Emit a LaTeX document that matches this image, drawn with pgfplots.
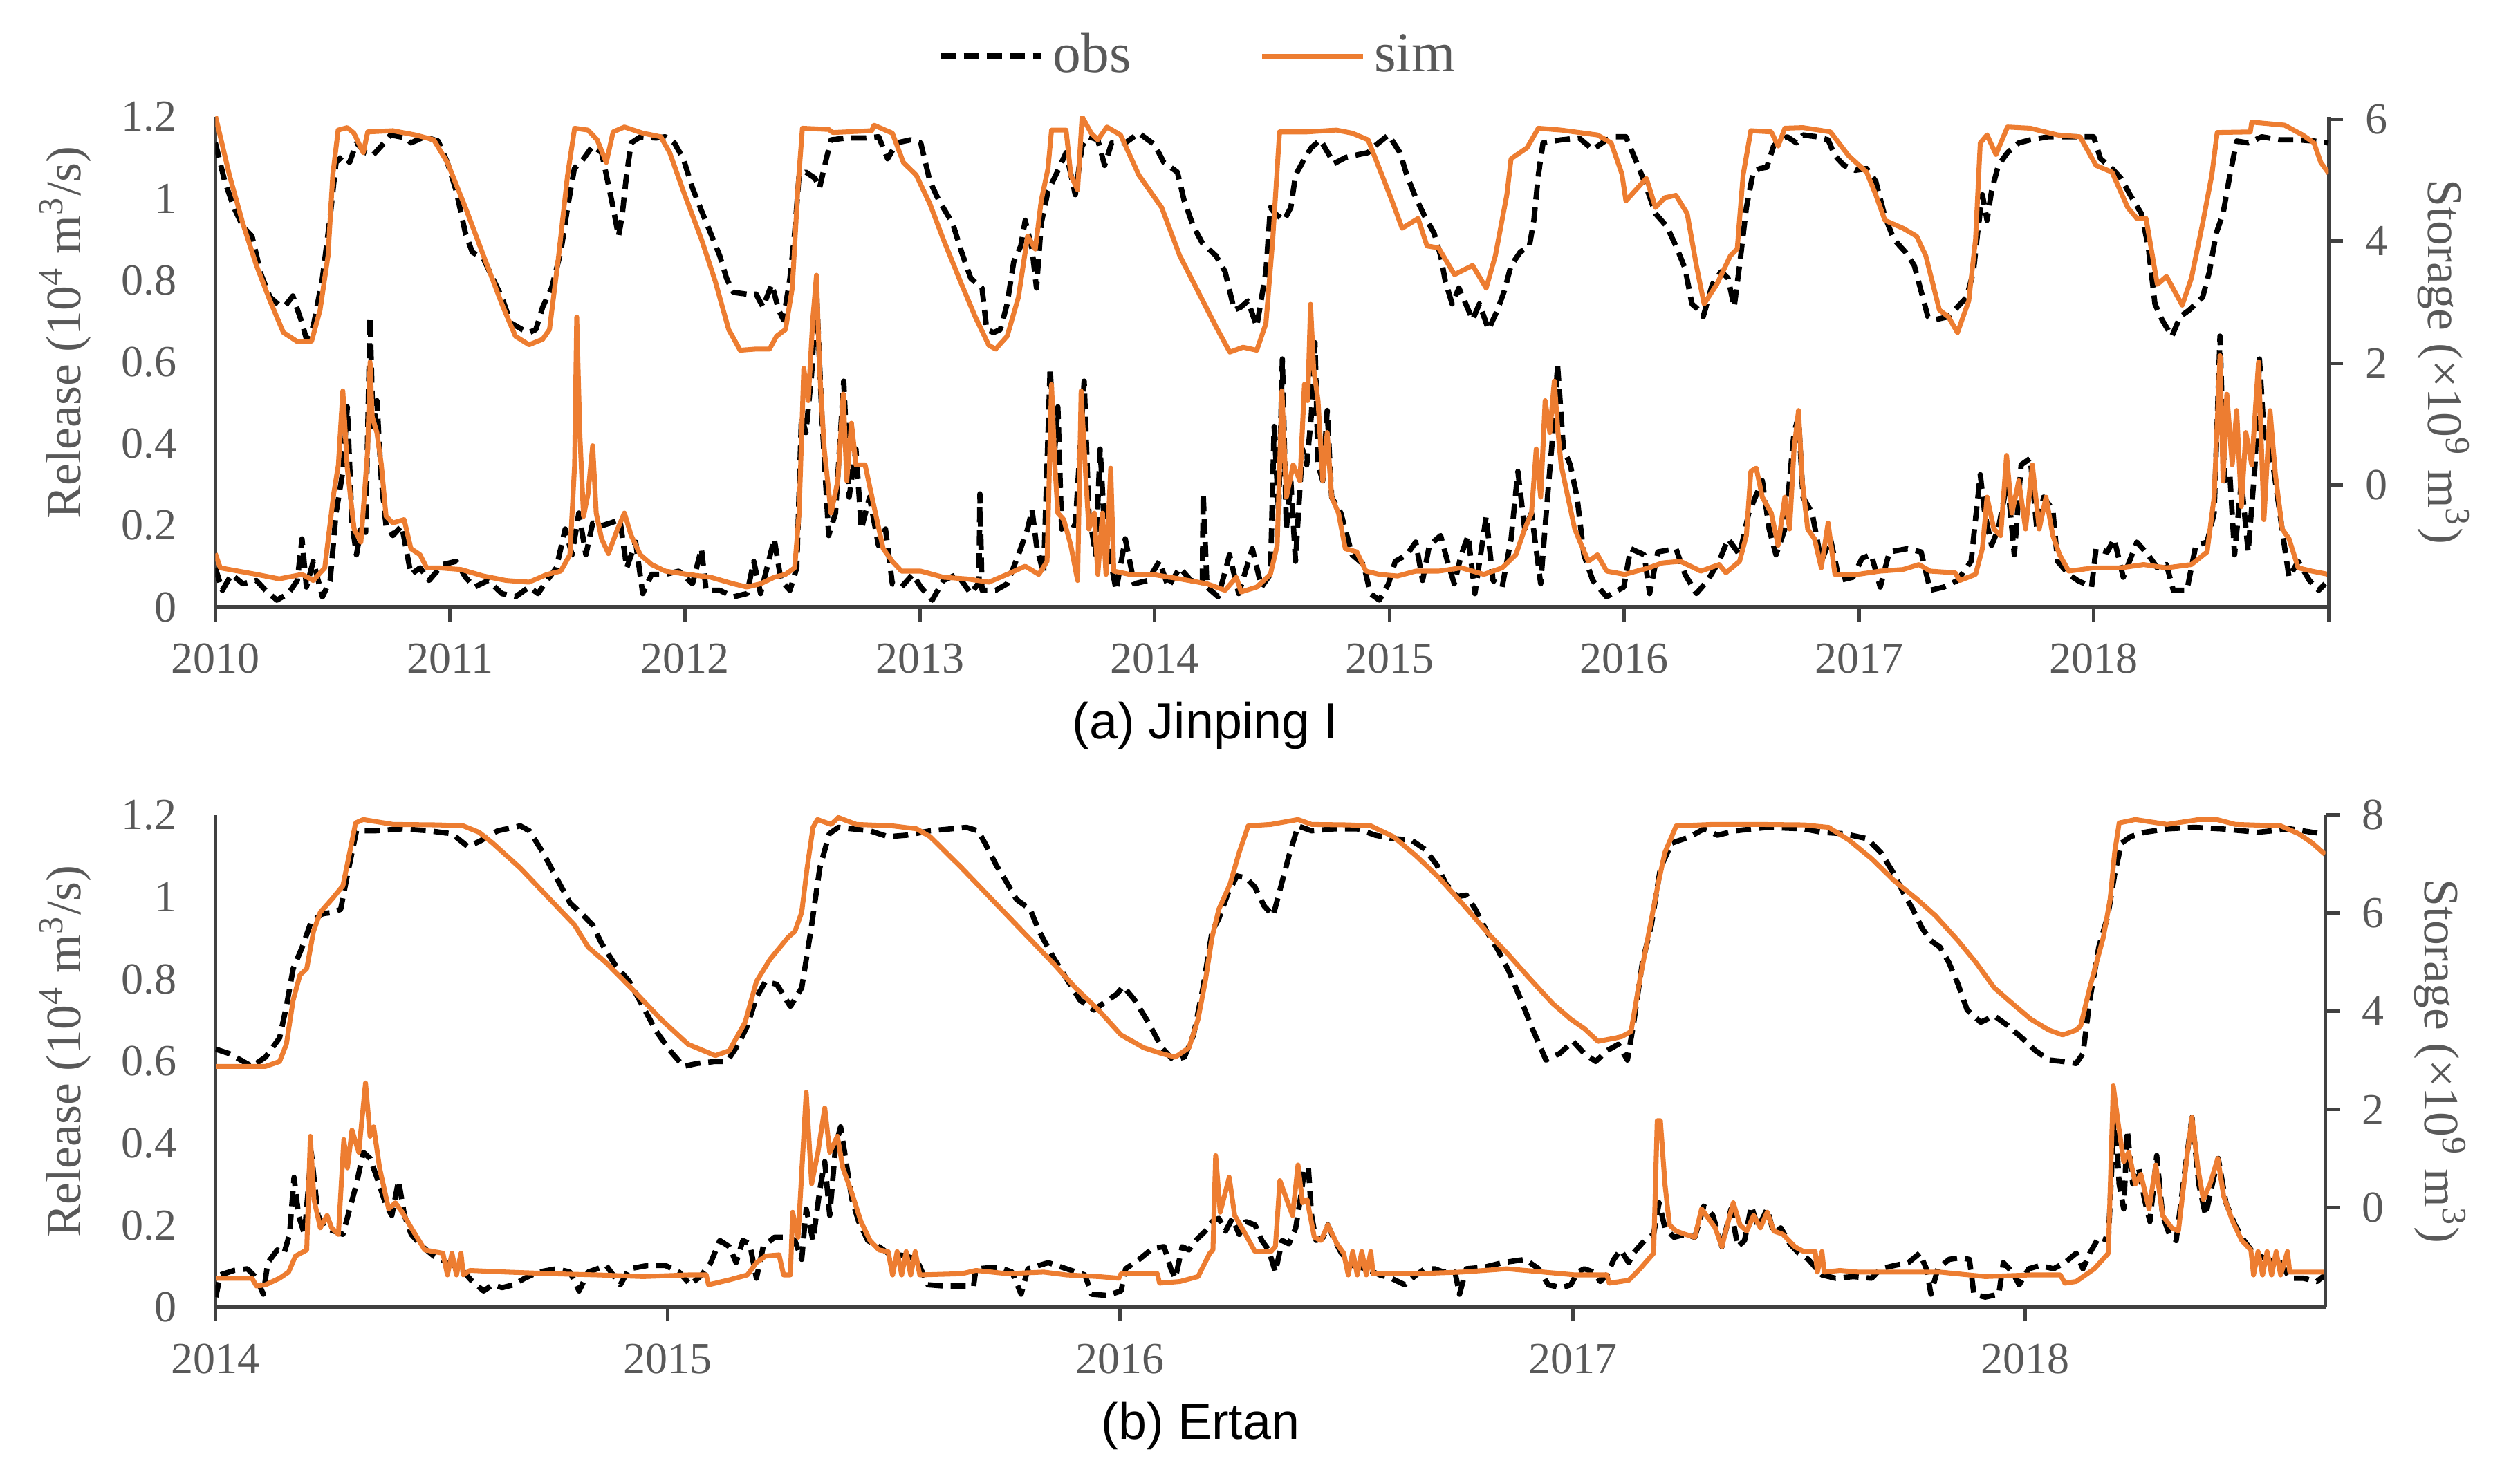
\documentclass[border=0pt]{standalone}
\usepackage{pgfplots}
\pgfplotsset{compat=1.18}
\usepackage{fontspec}
\setmainfont{Liberation Serif}
\newfontfamily\capfont{Liberation Sans}
\definecolor{simorange}{HTML}{ED7D31}
\definecolor{txtgray}{HTML}{595959}
\definecolor{axgray}{HTML}{404040}

\pgfplotsset{
  base/.style={
    scale only axis,
    /pgf/number format/assume math mode=true,
    tick label style={font=\fontsize{10}{12}\selectfont, text=txtgray},
    label style={font=\fontsize{11.2}{13}\selectfont, text=txtgray},
    axis line style={axgray, line width=0.8pt},
    tick style={axgray, line width=0.8pt},
    major tick length=3.2pt,
    tick align=outside,
  },
  obsline/.style={black, line width=1.2pt, dash pattern=on 3.4pt off 1.8pt, line join=round},
  simline/.style={simorange, line width=1.1pt, line join=round},
}

\begin{document}
\begin{tikzpicture}
\useasboundingbox (0,0) rectangle (20,-11.684);

% ---------- (a) Jinping I : release ----------
\begin{axis}[base,
  at={(1.709cm,-4.819cm)}, anchor=south west,
  width=16.773cm, height=3.893cm,
  xmin=2010, xmax=2019, ymin=0, ymax=1.2,
  axis x line*=bottom, axis y line*=left,
  xtick={2010,2011,2012,2013,2014,2015,2016,2017,2018,2019},
  xticklabels={2010,2011,2012,2013,2014,2015,2016,2017,2018,{}},
  ytick={0,0.2,0.4,0.6,0.8,1,1.2},
  ytick style={draw=none},
  yticklabel style={xshift=-2pt},
  xticklabel style={yshift=-1.5pt},
  ylabel={Release (10\textsuperscript{4} m\textsuperscript{3}/s)},
  ylabel style={at={(ticklabel cs:0.56)}},
  legend columns=2,
  legend style={draw=none, fill=none, at={(0.4665,1.1232)}, anchor=center,
    font=\fontsize{12.7}{14}\selectfont, text=txtgray,
    /tikz/every even column/.append style={column sep=0.95cm}},
  legend image code/.code={\draw[#1] (0cm,0cm) -- (0.8cm,0cm);},
]
\addplot[obsline] coordinates {
(2010.0,0.096)(2010.03,0.041)(2010.069,0.080)(2010.117,0.057)(2010.175,0.065)(2010.214,0.041)(2010.262,0.017)(2010.311,0.033)(2010.349,0.065)(2010.369,0.167)(2010.388,0.049)(2010.417,0.112)(2010.456,0.025)(2010.489,0.065)(2010.514,0.230)(2010.543,0.332)(2010.562,0.49)(2010.582,0.206)(2010.601,0.128)(2010.62,0.191)(2010.64,0.183)(2010.659,0.710)(2010.672,0.427)(2010.688,0.505)(2010.707,0.309)(2010.727,0.199)(2010.756,0.175)(2010.794,0.199)(2010.833,0.080)(2010.872,0.096)(2010.91,0.065)(2010.968,0.104)(2011.026,0.112)(2011.065,0.073)(2011.104,0.049)(2011.162,0.065)(2011.22,0.033)(2011.278,0.025)(2011.336,0.049)(2011.374,0.033)(2011.413,0.065)(2011.452,0.096)(2011.49,0.191)(2011.519,0.128)(2011.548,0.230)(2011.578,0.128)(2011.607,0.206)(2011.645,0.199)(2011.684,0.206)(2011.723,0.214)(2011.752,0.096)(2011.79,0.159)(2011.82,0.033)(2011.858,0.080)(2011.916,0.080)(2011.974,0.088)(2012.032,0.057)(2012.07,0.143)(2012.09,0.041)(2012.148,0.041)(2012.206,0.025)(2012.264,0.033)(2012.293,0.112)(2012.322,0.033)(2012.38,0.167)(2012.409,0.065)(2012.447,0.041)(2012.476,0.096)(2012.496,0.466)(2012.515,0.427)(2012.539,0.568)(2012.56,0.773)(2012.583,0.466)(2012.612,0.175)(2012.641,0.230)(2012.676,0.553)(2012.699,0.269)(2012.728,0.387)(2012.751,0.191)(2012.786,0.269)(2012.824,0.151)(2012.854,0.191)(2012.883,0.057)(2012.922,0.049)(2012.97,0.080)(2013.004,0.049)(2013.053,0.017)(2013.1,0.065)(2013.159,0.080)(2013.217,0.033)(2013.252,0.060)(2013.256,0.277)(2013.265,0.041)(2013.323,0.041)(2013.372,0.057)(2013.42,0.128)(2013.459,0.191)(2013.478,0.238)(2013.497,0.151)(2013.527,0.080)(2013.555,0.584)(2013.575,0.387)(2013.588,0.49)(2013.604,0.191)(2013.633,0.206)(2013.662,0.199)(2013.7,0.553)(2013.72,0.230)(2013.749,0.128)(2013.768,0.387)(2013.787,0.191)(2013.836,0.041)(2013.875,0.167)(2013.913,0.057)(2013.971,0.065)(2014.02,0.112)(2014.058,0.049)(2014.107,0.096)(2014.155,0.065)(2014.203,0.060)(2014.207,0.277)(2014.223,0.049)(2014.271,0.025)(2014.319,0.128)(2014.358,0.033)(2014.416,0.143)(2014.455,0.049)(2014.493,0.080)(2014.509,0.442)(2014.528,0.230)(2014.544,0.607)(2014.561,0.191)(2014.58,0.309)(2014.6,0.112)(2014.629,0.387)(2014.648,0.348)(2014.667,0.466)(2014.683,0.647)(2014.696,0.348)(2014.716,0.309)(2014.735,0.481)(2014.754,0.269)(2014.793,0.230)(2014.841,0.128)(2014.89,0.104)(2014.919,0.033)(2014.957,0.017)(2014.996,0.057)(2015.025,0.112)(2015.074,0.128)(2015.112,0.159)(2015.141,0.065)(2015.17,0.151)(2015.218,0.175)(2015.247,0.112)(2015.276,0.057)(2015.306,0.128)(2015.335,0.175)(2015.364,0.033)(2015.412,0.222)(2015.441,0.065)(2015.48,0.049)(2015.518,0.167)(2015.547,0.332)(2015.576,0.191)(2015.605,0.230)(2015.644,0.057)(2015.673,0.269)(2015.702,0.466)(2015.716,0.592)(2015.741,0.387)(2015.77,0.348)(2015.799,0.269)(2015.828,0.128)(2015.866,0.065)(2015.925,0.025)(2015.973,0.041)(2015.998,0.049)(2016.027,0.143)(2016.085,0.128)(2016.108,0.033)(2016.143,0.135)(2016.22,0.143)(2016.259,0.080)(2016.307,0.033)(2016.355,0.065)(2016.404,0.112)(2016.442,0.167)(2016.491,0.128)(2016.53,0.230)(2016.558,0.269)(2016.588,0.309)(2016.617,0.191)(2016.646,0.128)(2016.684,0.191)(2016.723,0.427)(2016.742,0.466)(2016.761,0.269)(2016.8,0.230)(2016.839,0.112)(2016.878,0.167)(2016.916,0.065)(2016.974,0.073)(2017.013,0.120)(2017.052,0.128)(2017.09,0.049)(2017.129,0.135)(2017.206,0.143)(2017.264,0.135)(2017.303,0.041)(2017.361,0.049)(2017.419,0.065)(2017.477,0.112)(2017.516,0.324)(2017.535,0.230)(2017.564,0.151)(2017.593,0.191)(2017.632,0.309)(2017.661,0.128)(2017.69,0.348)(2017.729,0.364)(2017.757,0.191)(2017.786,0.269)(2017.825,0.238)(2017.845,0.112)(2017.893,0.080)(2017.931,0.065)(2017.99,0.049)(2018.009,0.143)(2018.057,0.135)(2018.086,0.167)(2018.125,0.073)(2018.183,0.159)(2018.231,0.128)(2018.27,0.096)(2018.309,0.104)(2018.338,0.041)(2018.396,0.041)(2018.434,0.151)(2018.482,0.159)(2018.512,0.230)(2018.537,0.663)(2018.556,0.309)(2018.579,0.324)(2018.599,0.128)(2018.628,0.309)(2018.657,0.135)(2018.686,0.348)(2018.705,0.607)(2018.724,0.427)(2018.753,0.387)(2018.782,0.269)(2018.811,0.151)(2018.831,0.073)(2018.87,0.112)(2018.918,0.065)(2018.957,0.041)(2018.985,0.057)
};
\addlegendentry{obs}
\addplot[simline] coordinates {
(2010.0,0.131)(2010.021,0.096)(2010.098,0.088)(2010.175,0.080)(2010.272,0.069)(2010.369,0.080)(2010.417,0.065)(2010.466,0.096)(2010.504,0.277)(2010.524,0.348)(2010.543,0.529)(2010.562,0.340)(2010.591,0.191)(2010.62,0.159)(2010.649,0.387)(2010.659,0.60)(2010.668,0.466)(2010.688,0.427)(2010.707,0.348)(2010.727,0.222)(2010.756,0.206)(2010.804,0.214)(2010.833,0.143)(2010.872,0.128)(2010.9,0.096)(2010.949,0.096)(2011.046,0.092)(2011.142,0.076)(2011.239,0.065)(2011.336,0.061)(2011.413,0.080)(2011.471,0.088)(2011.51,0.128)(2011.53,0.348)(2011.539,0.710)(2011.552,0.427)(2011.568,0.222)(2011.587,0.277)(2011.607,0.395)(2011.622,0.230)(2011.645,0.167)(2011.674,0.131)(2011.713,0.191)(2011.742,0.230)(2011.771,0.175)(2011.81,0.128)(2011.858,0.104)(2011.916,0.088)(2012.012,0.080)(2012.109,0.073)(2012.206,0.057)(2012.264,0.049)(2012.322,0.057)(2012.38,0.073)(2012.428,0.080)(2012.467,0.096)(2012.486,0.230)(2012.506,0.584)(2012.525,0.505)(2012.544,0.702)(2012.56,0.812)(2012.573,0.584)(2012.593,0.387)(2012.622,0.230)(2012.651,0.309)(2012.674,0.521)(2012.689,0.309)(2012.709,0.450)(2012.728,0.348)(2012.767,0.348)(2012.805,0.246)(2012.844,0.143)(2012.883,0.112)(2012.922,0.088)(2013.004,0.088)(2013.1,0.073)(2013.198,0.069)(2013.294,0.061)(2013.372,0.080)(2013.449,0.100)(2013.507,0.080)(2013.542,0.112)(2013.561,0.545)(2013.575,0.348)(2013.588,0.230)(2013.613,0.214)(2013.643,0.151)(2013.672,0.065)(2013.687,0.529)(2013.704,0.348)(2013.72,0.191)(2013.743,0.230)(2013.758,0.080)(2013.778,0.230)(2013.793,0.080)(2013.813,0.340)(2013.826,0.088)(2013.894,0.080)(2013.991,0.080)(2014.107,0.069)(2014.223,0.057)(2014.3,0.041)(2014.348,0.073)(2014.368,0.037)(2014.435,0.049)(2014.493,0.080)(2014.522,0.151)(2014.542,0.529)(2014.561,0.269)(2014.59,0.348)(2014.619,0.309)(2014.638,0.545)(2014.652,0.505)(2014.664,0.741)(2014.677,0.584)(2014.696,0.505)(2014.716,0.309)(2014.735,0.427)(2014.754,0.269)(2014.783,0.230)(2014.812,0.143)(2014.861,0.135)(2014.9,0.088)(2014.957,0.080)(2015.035,0.076)(2015.112,0.088)(2015.209,0.088)(2015.306,0.096)(2015.402,0.080)(2015.48,0.096)(2015.538,0.128)(2015.576,0.191)(2015.605,0.230)(2015.625,0.387)(2015.644,0.269)(2015.663,0.505)(2015.683,0.427)(2015.702,0.553)(2015.718,0.427)(2015.731,0.348)(2015.76,0.269)(2015.789,0.191)(2015.818,0.151)(2015.847,0.112)(2015.886,0.128)(2015.925,0.088)(2016.002,0.080)(2016.104,0.096)(2016.162,0.108)(2016.239,0.112)(2016.326,0.088)(2016.404,0.104)(2016.433,0.084)(2016.491,0.112)(2016.52,0.175)(2016.539,0.332)(2016.562,0.340)(2016.588,0.269)(2016.626,0.230)(2016.655,0.151)(2016.684,0.269)(2016.704,0.191)(2016.723,0.387)(2016.742,0.481)(2016.758,0.309)(2016.781,0.191)(2016.81,0.167)(2016.839,0.096)(2016.868,0.206)(2016.897,0.080)(2016.994,0.080)(2017.09,0.088)(2017.187,0.092)(2017.255,0.104)(2017.303,0.088)(2017.409,0.084)(2017.429,0.065)(2017.496,0.080)(2017.525,0.143)(2017.545,0.269)(2017.574,0.191)(2017.603,0.175)(2017.628,0.371)(2017.651,0.230)(2017.68,0.309)(2017.709,0.191)(2017.738,0.348)(2017.767,0.191)(2017.796,0.269)(2017.825,0.175)(2017.854,0.128)(2017.893,0.088)(2017.999,0.096)(2018.115,0.096)(2018.212,0.104)(2018.309,0.096)(2018.415,0.104)(2018.482,0.135)(2018.512,0.269)(2018.537,0.615)(2018.55,0.309)(2018.566,0.521)(2018.589,0.348)(2018.608,0.481)(2018.628,0.246)(2018.647,0.427)(2018.672,0.348)(2018.701,0.600)(2018.724,0.214)(2018.75,0.481)(2018.773,0.324)(2018.802,0.191)(2018.831,0.167)(2018.87,0.096)(2018.928,0.088)(2018.999,0.080)
};
\addlegendentry{sim}
\end{axis}

% ---------- (a) Jinping I : storage ----------
\begin{axis}[base,
  at={(1.709cm,-4.819cm)}, anchor=south west,
  width=16.773cm, height=3.893cm,
  xmin=2010, xmax=2019, ymin=-2, ymax=6.04,
  axis y line*=right, axis x line=none,
  ytick={0,2,4,6},
  yticklabel style={xshift=1.5pt},
  ylabel={Storage (×10\textsuperscript{9} m\textsuperscript{3})},
  ylabel style={rotate=180},
]
\addplot[obsline] coordinates {
(2010.0,5.61)(2010.04,4.98)(2010.079,4.55)(2010.117,4.24)(2010.156,4.08)(2010.195,3.45)(2010.233,3.08)(2010.272,2.95)(2010.3,2.95)(2010.33,3.10)(2010.369,2.66)(2010.388,2.39)(2010.417,2.60)(2010.456,3.39)(2010.489,4.40)(2010.514,5.29)(2010.543,5.40)(2010.572,5.29)(2010.601,5.61)(2010.64,5.45)(2010.669,5.40)(2010.707,5.56)(2010.746,5.74)(2010.814,5.69)(2010.833,5.61)(2010.891,5.71)(2010.949,5.64)(2010.988,5.29)(2011.026,4.82)(2011.065,4.13)(2011.094,3.82)(2011.142,3.71)(2011.181,3.39)(2011.22,3.08)(2011.258,2.66)(2011.307,2.55)(2011.336,2.50)(2011.365,2.55)(2011.394,2.92)(2011.432,3.23)(2011.471,3.82)(2011.5,4.55)(2011.529,5.19)(2011.568,5.35)(2011.607,5.56)(2011.645,5.45)(2011.674,4.92)(2011.694,4.55)(2011.717,4.08)(2011.732,4.40)(2011.751,5.08)(2011.771,5.61)(2011.81,5.71)(2011.877,5.69)(2011.916,5.71)(2011.955,5.61)(2011.993,5.35)(2012.032,4.87)(2012.07,4.50)(2012.109,4.13)(2012.148,3.76)(2012.177,3.39)(2012.206,3.16)(2012.264,3.13)(2012.303,3.13)(2012.332,2.92)(2012.37,3.29)(2012.399,2.87)(2012.419,2.71)(2012.447,3.39)(2012.467,4.13)(2012.486,5.08)(2012.515,5.13)(2012.554,5.03)(2012.573,4.87)(2012.602,5.35)(2012.622,5.66)(2012.689,5.69)(2012.767,5.69)(2012.825,5.71)(2012.863,5.35)(2012.902,5.61)(2012.96,5.66)(2013.004,5.61)(2013.043,4.98)(2013.082,4.66)(2013.14,4.29)(2013.178,3.82)(2013.217,3.39)(2013.265,3.23)(2013.285,2.55)(2013.314,2.50)(2013.343,2.55)(2013.372,2.97)(2013.4,3.66)(2013.43,3.92)(2013.449,4.34)(2013.478,3.87)(2013.497,3.23)(2013.517,4.29)(2013.546,4.82)(2013.585,5.13)(2013.623,5.45)(2013.662,4.76)(2013.691,5.56)(2013.72,5.71)(2013.758,5.66)(2013.787,5.24)(2013.817,5.61)(2013.875,5.61)(2013.933,5.77)(2014.0,5.58)(2014.039,5.29)(2014.097,5.13)(2014.126,4.66)(2014.165,4.24)(2014.203,3.97)(2014.261,3.76)(2014.3,3.50)(2014.339,2.87)(2014.368,2.92)(2014.397,3.02)(2014.435,2.60)(2014.474,3.50)(2014.493,4.55)(2014.513,4.45)(2014.551,4.34)(2014.58,4.55)(2014.6,5.08)(2014.638,5.35)(2014.667,5.53)(2014.706,5.66)(2014.745,5.40)(2014.764,5.27)(2014.813,5.37)(2014.87,5.42)(2014.909,5.45)(2014.938,5.56)(2014.996,5.74)(2015.045,5.45)(2015.074,5.08)(2015.112,4.71)(2015.151,4.40)(2015.19,4.13)(2015.218,3.76)(2015.238,3.34)(2015.267,2.97)(2015.296,3.23)(2015.325,2.97)(2015.354,2.71)(2015.383,2.97)(2015.422,2.55)(2015.46,2.87)(2015.489,3.18)(2015.518,3.60)(2015.557,3.82)(2015.596,3.92)(2015.615,4.34)(2015.634,5.08)(2015.654,5.61)(2015.731,5.66)(2015.808,5.69)(2015.866,5.50)(2015.925,5.66)(2015.963,5.71)(2016.007,5.71)(2016.046,5.35)(2016.085,4.98)(2016.133,4.45)(2016.181,4.24)(2016.22,3.92)(2016.259,3.55)(2016.288,2.97)(2016.317,2.87)(2016.336,2.76)(2016.375,3.29)(2016.413,3.50)(2016.442,3.39)(2016.468,2.92)(2016.491,3.60)(2016.52,4.55)(2016.549,5.13)(2016.578,5.19)(2016.607,5.21)(2016.636,5.56)(2016.665,5.66)(2016.694,5.71)(2016.733,5.61)(2016.761,5.74)(2016.82,5.71)(2016.868,5.66)(2016.897,5.40)(2016.936,5.24)(2016.984,5.16)(2017.032,5.19)(2017.071,4.98)(2017.11,4.40)(2017.148,4.03)(2017.197,3.82)(2017.235,3.60)(2017.264,3.18)(2017.293,2.76)(2017.322,2.71)(2017.38,2.76)(2017.419,2.92)(2017.458,3.08)(2017.487,3.50)(2017.506,4.18)(2017.525,4.76)(2017.545,4.34)(2017.564,4.82)(2017.593,5.24)(2017.632,5.45)(2017.68,5.61)(2017.729,5.66)(2017.806,5.71)(2017.883,5.71)(2017.999,5.71)(2018.028,5.35)(2018.077,5.19)(2018.115,5.03)(2018.154,4.76)(2018.202,4.45)(2018.231,3.92)(2018.26,2.97)(2018.29,2.71)(2018.332,2.44)(2018.367,2.76)(2018.406,2.87)(2018.463,3.08)(2018.492,3.50)(2018.521,4.13)(2018.55,4.45)(2018.579,5.08)(2018.608,5.64)(2018.657,5.61)(2018.715,5.71)(2018.792,5.66)(2018.87,5.66)(2018.937,5.64)(2018.999,5.61)
};
\addplot[simline] coordinates {
(2010.0,6.06)(2010.06,5.08)(2010.117,4.29)(2010.175,3.60)(2010.233,3.02)(2010.29,2.50)(2010.35,2.35)(2010.41,2.36)(2010.446,2.87)(2010.48,3.76)(2010.5,5.08)(2010.523,5.82)(2010.562,5.86)(2010.59,5.77)(2010.63,5.45)(2010.649,5.79)(2010.755,5.81)(2010.852,5.74)(2010.93,5.66)(2010.988,5.29)(2011.065,4.55)(2011.142,3.76)(2011.22,2.97)(2011.278,2.44)(2011.336,2.30)(2011.394,2.39)(2011.423,2.55)(2011.462,3.76)(2011.5,5.08)(2011.53,5.85)(2011.587,5.82)(2011.626,5.66)(2011.665,5.29)(2011.694,5.79)(2011.742,5.87)(2011.82,5.77)(2011.897,5.71)(2011.935,5.45)(2011.993,4.82)(2012.07,4.03)(2012.129,3.34)(2012.186,2.55)(2012.235,2.21)(2012.303,2.23)(2012.36,2.23)(2012.39,2.44)(2012.428,2.55)(2012.457,3.23)(2012.48,4.82)(2012.5,5.85)(2012.612,5.83)(2012.63,5.78)(2012.795,5.81)(2012.805,5.90)(2012.883,5.77)(2012.93,5.29)(2012.985,5.08)(2013.043,4.61)(2013.1,4.03)(2013.178,3.29)(2013.236,2.76)(2013.294,2.29)(2013.323,2.23)(2013.372,2.44)(2013.42,3.08)(2013.459,4.08)(2013.492,3.87)(2013.517,4.66)(2013.546,5.19)(2013.561,5.82)(2013.623,5.82)(2013.643,5.08)(2013.672,4.84)(2013.691,6.04)(2013.73,5.77)(2013.758,5.66)(2013.797,5.87)(2013.855,5.74)(2013.933,5.08)(2014.03,4.55)(2014.107,3.76)(2014.184,3.18)(2014.261,2.60)(2014.32,2.18)(2014.377,2.26)(2014.435,2.21)(2014.474,2.65)(2014.503,4.03)(2014.532,5.79)(2014.648,5.79)(2014.774,5.82)(2014.841,5.77)(2014.909,5.66)(2014.957,5.19)(2015.006,4.71)(2015.054,4.21)(2015.122,4.37)(2015.16,3.92)(2015.209,3.89)(2015.277,3.45)(2015.354,3.60)(2015.412,3.23)(2015.451,3.76)(2015.5,4.76)(2015.518,5.35)(2015.586,5.53)(2015.634,5.85)(2015.731,5.82)(2015.886,5.74)(2015.944,5.61)(2015.99,5.10)(2016.007,4.66)(2016.094,5.03)(2016.133,4.55)(2016.172,4.71)(2016.22,4.75)(2016.268,4.45)(2016.307,3.60)(2016.34,2.97)(2016.394,3.29)(2016.452,3.76)(2016.481,3.87)(2016.506,5.08)(2016.539,5.81)(2016.626,5.79)(2016.655,5.56)(2016.684,5.85)(2016.761,5.86)(2016.878,5.79)(2016.955,5.40)(2017.032,5.13)(2017.071,4.76)(2017.11,4.34)(2017.187,4.21)(2017.245,4.08)(2017.284,3.76)(2017.342,2.87)(2017.38,2.76)(2017.419,2.50)(2017.467,3.02)(2017.496,4.03)(2017.516,5.61)(2017.545,5.74)(2017.583,5.42)(2017.632,5.87)(2017.729,5.85)(2017.845,5.74)(2017.941,5.71)(2018.009,5.24)(2018.077,5.13)(2018.144,4.55)(2018.183,4.37)(2018.222,4.37)(2018.27,3.29)(2018.309,3.42)(2018.376,2.95)(2018.415,3.39)(2018.463,4.29)(2018.502,5.08)(2018.525,5.78)(2018.666,5.79)(2018.672,5.95)(2018.812,5.90)(2018.889,5.74)(2018.937,5.61)(2018.966,5.29)(2019.0,5.11)
};
\end{axis}

% ---------- (b) Ertan : release ----------
\begin{axis}[base,
  at={(1.709cm,-10.378cm)}, anchor=south west,
  width=16.747cm, height=3.908cm,
  xmin=2014, xmax=2018.664, ymin=0, ymax=1.2,
  axis x line*=bottom, axis y line*=left,
  xtick={2014,2015,2016,2017,2018},
  xticklabels={2014,2015,2016,2017,2018},
  ytick={0,0.2,0.4,0.6,0.8,1,1.2},
  ytick style={draw=none},
  yticklabel style={xshift=-2pt},
  xticklabel style={yshift=-1.5pt},
  ylabel={Release (10\textsuperscript{4} m\textsuperscript{3}/s)},
  ylabel style={at={(ticklabel cs:0.52)}},
]
\addplot[obsline] coordinates {
(2014.001,0.025)(2014.011,0.079)(2014.041,0.090)(2014.071,0.094)(2014.091,0.071)(2014.106,0.032)(2014.116,0.109)(2014.137,0.140)(2014.152,0.132)(2014.164,0.178)(2014.174,0.317)(2014.184,0.224)(2014.197,0.178)(2014.212,0.378)(2014.227,0.224)(2014.242,0.194)(2014.262,0.186)(2014.282,0.178)(2014.297,0.240)(2014.312,0.301)(2014.327,0.378)(2014.342,0.363)(2014.357,0.317)(2014.378,0.247)(2014.39,0.224)(2014.405,0.309)(2014.418,0.224)(2014.433,0.178)(2014.458,0.148)(2014.483,0.125)(2014.513,0.109)(2014.543,0.094)(2014.568,0.063)(2014.593,0.040)(2014.613,0.055)(2014.634,0.048)(2014.659,0.055)(2014.684,0.071)(2014.714,0.086)(2014.754,0.094)(2014.784,0.086)(2014.804,0.040)(2014.824,0.086)(2014.864,0.102)(2014.895,0.055)(2014.915,0.094)(2014.955,0.102)(2014.995,0.102)(2015.025,0.086)(2015.05,0.055)(2015.075,0.079)(2015.095,0.109)(2015.115,0.163)(2015.136,0.148)(2015.151,0.109)(2015.166,0.163)(2015.181,0.155)(2015.196,0.071)(2015.211,0.148)(2015.236,0.171)(2015.266,0.171)(2015.281,0.163)(2015.296,0.117)(2015.306,0.240)(2015.321,0.163)(2015.336,0.286)(2015.347,0.355)(2015.358,0.224)(2015.371,0.394)(2015.382,0.440)(2015.392,0.370)(2015.407,0.263)(2015.422,0.209)(2015.442,0.163)(2015.467,0.148)(2015.487,0.132)(2015.527,0.125)(2015.55,0.117)(2015.575,0.055)(2015.61,0.052)(2015.676,0.052)(2015.681,0.094)(2015.731,0.098)(2015.761,0.086)(2015.781,0.032)(2015.796,0.094)(2015.841,0.109)(2015.881,0.094)(2015.922,0.079)(2015.937,0.032)(2015.972,0.029)(2016.002,0.040)(2016.012,0.094)(2016.042,0.117)(2016.072,0.144)(2016.097,0.148)(2016.112,0.094)(2016.122,0.071)(2016.137,0.148)(2016.152,0.140)(2016.167,0.163)(2016.188,0.186)(2016.203,0.209)(2016.218,0.217)(2016.233,0.186)(2016.248,0.217)(2016.263,0.178)(2016.278,0.209)(2016.298,0.201)(2016.313,0.163)(2016.328,0.140)(2016.343,0.086)(2016.358,0.163)(2016.373,0.155)(2016.388,0.194)(2016.398,0.263)(2016.408,0.340)(2016.416,0.340)(2016.423,0.224)(2016.433,0.163)(2016.449,0.171)(2016.459,0.201)(2016.474,0.163)(2016.489,0.132)(2016.514,0.102)(2016.544,0.094)(2016.574,0.079)(2016.599,0.071)(2016.629,0.055)(2016.654,0.079)(2016.674,0.094)(2016.695,0.094)(2016.715,0.086)(2016.74,0.086)(2016.75,0.032)(2016.765,0.094)(2016.805,0.098)(2016.845,0.109)(2016.895,0.117)(2016.925,0.094)(2016.946,0.055)(2016.976,0.048)(2016.996,0.055)(2017.011,0.086)(2017.026,0.094)(2017.046,0.086)(2017.061,0.063)(2017.076,0.079)(2017.091,0.117)(2017.106,0.140)(2017.124,0.109)(2017.134,0.132)(2017.159,0.163)(2017.179,0.178)(2017.191,0.255)(2017.204,0.194)(2017.224,0.171)(2017.249,0.178)(2017.27,0.171)(2017.29,0.247)(2017.31,0.224)(2017.33,0.148)(2017.35,0.240)(2017.365,0.148)(2017.38,0.163)(2017.395,0.247)(2017.41,0.194)(2017.43,0.240)(2017.445,0.178)(2017.46,0.194)(2017.48,0.155)(2017.5,0.132)(2017.521,0.117)(2017.551,0.079)(2017.581,0.071)(2017.621,0.075)(2017.661,0.071)(2017.681,0.094)(2017.711,0.102)(2017.742,0.109)(2017.767,0.132)(2017.782,0.094)(2017.792,0.032)(2017.807,0.094)(2017.832,0.117)(2017.857,0.121)(2017.877,0.117)(2017.887,0.032)(2017.912,0.025)(2017.942,0.032)(2017.952,0.109)(2017.972,0.086)(2017.987,0.055)(2018.008,0.094)(2018.033,0.102)(2018.063,0.094)(2018.088,0.109)(2018.113,0.132)(2018.128,0.094)(2018.143,0.132)(2018.163,0.171)(2018.184,0.163)(2018.198,0.486)(2018.208,0.301)(2018.218,0.240)(2018.226,0.432)(2018.238,0.301)(2018.251,0.340)(2018.264,0.263)(2018.276,0.209)(2018.291,0.370)(2018.304,0.224)(2018.319,0.178)(2018.334,0.163)(2018.354,0.340)(2018.369,0.463)(2018.384,0.301)(2018.399,0.224)(2018.414,0.301)(2018.427,0.363)(2018.444,0.255)(2018.464,0.201)(2018.484,0.163)(2018.505,0.132)(2018.535,0.117)(2018.565,0.109)(2018.585,0.071)(2018.615,0.071)(2018.645,0.063)(2018.663,0.079)
};
\addplot[simline] coordinates {
(2014.001,0.071)(2014.081,0.071)(2014.091,0.052)(2014.111,0.055)(2014.142,0.071)(2014.162,0.086)(2014.177,0.125)(2014.202,0.140)(2014.21,0.417)(2014.218,0.263)(2014.232,0.194)(2014.247,0.224)(2014.257,0.194)(2014.272,0.178)(2014.284,0.409)(2014.292,0.340)(2014.302,0.432)(2014.317,0.378)(2014.332,0.547)(2014.342,0.417)(2014.35,0.440)(2014.363,0.340)(2014.383,0.240)(2014.398,0.255)(2014.413,0.232)(2014.433,0.194)(2014.463,0.140)(2014.503,0.132)(2014.513,0.079)(2014.523,0.132)(2014.533,0.079)(2014.543,0.132)(2014.548,0.079)(2014.563,0.090)(2014.644,0.086)(2014.744,0.082)(2014.845,0.079)(2014.945,0.075)(2015.045,0.079)(2015.085,0.079)(2015.09,0.055)(2015.136,0.067)(2015.176,0.079)(2015.196,0.109)(2015.216,0.125)(2015.246,0.128)(2015.256,0.079)(2015.271,0.079)(2015.276,0.232)(2015.288,0.171)(2015.306,0.524)(2015.318,0.301)(2015.332,0.378)(2015.347,0.486)(2015.358,0.378)(2015.375,0.417)(2015.387,0.340)(2015.407,0.278)(2015.427,0.209)(2015.447,0.163)(2015.467,0.140)(2015.487,0.136)(2015.497,0.079)(2015.507,0.136)(2015.517,0.079)(2015.527,0.136)(2015.537,0.079)(2015.547,0.136)(2015.557,0.079)(2015.65,0.082)(2015.681,0.090)(2015.751,0.082)(2015.831,0.086)(2015.881,0.079)(2015.952,0.075)(2015.997,0.071)(2016.002,0.082)(2016.082,0.082)(2016.087,0.059)(2016.132,0.063)(2016.172,0.075)(2016.198,0.132)(2016.205,0.140)(2016.211,0.370)(2016.221,0.232)(2016.241,0.317)(2016.253,0.224)(2016.273,0.186)(2016.298,0.136)(2016.333,0.136)(2016.343,0.148)(2016.353,0.309)(2016.368,0.263)(2016.381,0.224)(2016.393,0.347)(2016.403,0.255)(2016.413,0.263)(2016.429,0.171)(2016.444,0.163)(2016.459,0.201)(2016.479,0.155)(2016.494,0.132)(2016.504,0.079)(2016.514,0.136)(2016.524,0.079)(2016.534,0.136)(2016.544,0.079)(2016.554,0.136)(2016.559,0.082)(2016.654,0.082)(2016.755,0.086)(2016.855,0.094)(2016.936,0.086)(2017.006,0.079)(2017.076,0.079)(2017.081,0.059)(2017.124,0.066)(2017.149,0.094)(2017.179,0.132)(2017.187,0.455)(2017.194,0.455)(2017.204,0.301)(2017.214,0.201)(2017.229,0.186)(2017.249,0.178)(2017.27,0.171)(2017.285,0.240)(2017.3,0.217)(2017.315,0.194)(2017.33,0.148)(2017.342,0.201)(2017.355,0.255)(2017.37,0.201)(2017.385,0.186)(2017.4,0.224)(2017.415,0.194)(2017.43,0.232)(2017.445,0.186)(2017.465,0.178)(2017.491,0.148)(2017.511,0.136)(2017.536,0.136)(2017.541,0.086)(2017.551,0.136)(2017.556,0.086)(2017.591,0.090)(2017.631,0.086)(2017.711,0.086)(2017.812,0.086)(2017.912,0.075)(2018.013,0.079)(2018.078,0.079)(2018.088,0.059)(2018.113,0.063)(2018.153,0.094)(2018.184,0.132)(2018.195,0.540)(2018.205,0.455)(2018.218,0.355)(2018.229,0.378)(2018.244,0.301)(2018.256,0.324)(2018.274,0.240)(2018.289,0.347)(2018.304,0.224)(2018.324,0.194)(2018.339,0.186)(2018.359,0.378)(2018.369,0.463)(2018.382,0.340)(2018.394,0.263)(2018.409,0.301)(2018.426,0.363)(2018.439,0.271)(2018.459,0.209)(2018.479,0.163)(2018.499,0.140)(2018.505,0.079)(2018.515,0.136)(2018.525,0.079)(2018.535,0.136)(2018.545,0.079)(2018.555,0.136)(2018.565,0.079)(2018.58,0.136)(2018.585,0.086)(2018.663,0.086)
};
\end{axis}

% ---------- (b) Ertan : storage ----------
\begin{axis}[base,
  at={(1.709cm,-10.378cm)}, anchor=south west,
  width=16.747cm, height=3.908cm,
  xmin=2014, xmax=2018.664, ymin=-2.03, ymax=8,
  axis y line*=right, axis x line=none,
  ytick={0,2,4,6,8},
  yticklabel style={xshift=1.5pt},
  ylabel={Storage (×10\textsuperscript{9} m\textsuperscript{3})},
  ylabel style={rotate=180},
]
\addplot[obsline] coordinates {
(2014.001,3.23)(2014.031,3.14)(2014.081,2.88)(2014.111,3.07)(2014.142,3.46)(2014.157,4.10)(2014.172,4.87)(2014.192,5.31)(2014.212,5.83)(2014.237,5.99)(2014.262,6.02)(2014.277,6.08)(2014.292,6.79)(2014.312,7.68)(2014.352,7.68)(2014.413,7.72)(2014.473,7.68)(2014.523,7.62)(2014.558,7.36)(2014.583,7.46)(2014.624,7.68)(2014.674,7.78)(2014.694,7.68)(2014.724,7.24)(2014.754,6.72)(2014.784,6.21)(2014.814,5.95)(2014.834,5.76)(2014.854,5.38)(2014.885,4.93)(2014.915,4.61)(2014.945,4.10)(2014.975,3.59)(2015.005,3.20)(2015.035,2.88)(2015.065,2.94)(2015.105,2.98)(2015.131,2.98)(2015.156,3.33)(2015.176,3.71)(2015.196,4.29)(2015.216,4.61)(2015.241,4.55)(2015.271,4.10)(2015.296,4.48)(2015.316,5.63)(2015.336,6.92)(2015.357,7.62)(2015.377,7.75)(2015.407,7.72)(2015.447,7.68)(2015.487,7.56)(2015.527,7.59)(2015.58,7.68)(2015.66,7.75)(2015.686,7.68)(2015.701,7.43)(2015.726,6.98)(2015.751,6.60)(2015.771,6.28)(2015.801,6.08)(2015.821,5.63)(2015.851,5.12)(2015.881,4.67)(2015.911,4.23)(2015.942,4.03)(2015.962,4.16)(2015.992,4.35)(2016.007,4.51)(2016.032,4.23)(2016.062,3.78)(2016.092,3.26)(2016.117,3.01)(2016.142,3.07)(2016.162,3.52)(2016.183,4.48)(2016.203,5.63)(2016.218,5.89)(2016.238,6.40)(2016.258,6.76)(2016.278,6.72)(2016.298,6.53)(2016.318,6.15)(2016.338,5.95)(2016.353,6.47)(2016.373,7.17)(2016.393,7.78)(2016.423,7.68)(2016.474,7.72)(2016.524,7.72)(2016.564,7.59)(2016.604,7.52)(2016.644,7.49)(2016.674,7.30)(2016.70,6.98)(2016.72,6.60)(2016.745,6.34)(2016.765,6.37)(2016.785,6.08)(2016.81,5.63)(2016.835,5.25)(2016.86,4.80)(2016.886,4.23)(2016.911,3.65)(2016.941,3.01)(2016.971,3.14)(2017.001,3.39)(2017.026,3.14)(2017.051,2.98)(2017.076,3.20)(2017.101,3.33)(2017.121,3.01)(2017.134,3.71)(2017.154,4.99)(2017.174,5.76)(2017.194,6.92)(2017.219,7.43)(2017.26,7.56)(2017.29,7.72)(2017.32,7.59)(2017.36,7.68)(2017.43,7.75)(2017.511,7.72)(2017.551,7.65)(2017.601,7.62)(2017.651,7.52)(2017.681,7.24)(2017.711,6.79)(2017.732,6.40)(2017.752,6.08)(2017.772,5.70)(2017.792,5.44)(2017.812,5.31)(2017.832,4.99)(2017.852,4.55)(2017.872,4.03)(2017.902,3.78)(2017.932,3.91)(2017.962,3.71)(2017.993,3.46)(2018.023,3.20)(2018.053,3.01)(2018.083,2.98)(2018.113,2.94)(2018.128,3.14)(2018.143,4.23)(2018.163,5.31)(2018.183,5.95)(2018.198,6.79)(2018.213,7.43)(2018.233,7.56)(2018.264,7.65)(2018.314,7.72)(2018.374,7.75)(2018.434,7.72)(2018.515,7.65)(2018.585,7.72)(2018.635,7.65)(2018.663,7.62)
};
\addplot[simline] coordinates {
(2014.001,2.88)(2014.111,2.88)(2014.142,2.98)(2014.157,3.33)(2014.172,4.23)(2014.187,4.74)(2014.202,4.87)(2014.217,5.63)(2014.232,6.02)(2014.257,6.28)(2014.282,6.56)(2014.297,7.24)(2014.310,7.84)(2014.327,7.91)(2014.393,7.81)(2014.493,7.80)(2014.548,7.78)(2014.583,7.65)(2014.613,7.43)(2014.674,6.92)(2014.734,6.34)(2014.794,5.76)(2014.824,5.31)(2014.864,4.99)(2014.925,4.42)(2014.985,3.84)(2015.045,3.33)(2015.105,3.10)(2015.136,3.20)(2015.171,3.78)(2015.196,4.61)(2015.226,5.06)(2015.266,5.51)(2015.281,5.63)(2015.296,6.02)(2015.308,6.92)(2015.321,7.75)(2015.331,7.91)(2015.361,7.81)(2015.377,7.95)(2015.417,7.81)(2015.497,7.78)(2015.55,7.72)(2015.58,7.56)(2015.65,6.92)(2015.751,5.95)(2015.851,4.99)(2015.901,4.48)(2015.952,4.03)(2016.002,3.52)(2016.052,3.26)(2016.092,3.14)(2016.122,3.07)(2016.152,3.26)(2016.172,3.84)(2016.188,4.61)(2016.203,5.51)(2016.218,6.08)(2016.243,6.60)(2016.263,7.24)(2016.283,7.78)(2016.333,7.81)(2016.393,7.91)(2016.423,7.81)(2016.504,7.80)(2016.554,7.78)(2016.604,7.56)(2016.654,7.17)(2016.705,6.72)(2016.755,6.21)(2016.815,5.57)(2016.855,5.19)(2016.905,4.67)(2016.956,4.16)(2016.996,3.84)(2017.026,3.65)(2017.056,3.39)(2017.096,3.46)(2017.109,3.49)(2017.129,3.59)(2017.149,4.67)(2017.169,5.63)(2017.189,6.60)(2017.204,7.24)(2017.229,7.78)(2017.31,7.81)(2017.41,7.81)(2017.511,7.80)(2017.566,7.75)(2017.611,7.49)(2017.661,7.11)(2017.711,6.66)(2017.762,6.28)(2017.802,5.95)(2017.852,5.44)(2017.892,4.99)(2017.932,4.48)(2017.972,4.16)(2018.013,3.84)(2018.053,3.62)(2018.083,3.52)(2018.113,3.62)(2018.123,3.71)(2018.143,4.48)(2018.173,5.51)(2018.188,6.28)(2018.198,7.24)(2018.208,7.84)(2018.244,7.91)(2018.314,7.81)(2018.384,7.91)(2018.424,7.91)(2018.465,7.81)(2018.565,7.78)(2018.605,7.62)(2018.635,7.43)(2018.663,7.20)
};
\end{axis}

\node[anchor=base, font=\capfont\fontsize{11.5}{13}\selectfont] at (9.566,-5.867) {(a) Jinping I};
\node[anchor=base, font=\capfont\fontsize{11.5}{13}\selectfont] at (9.528,-11.422) {(b) Ertan};
\end{tikzpicture}
\end{document}
